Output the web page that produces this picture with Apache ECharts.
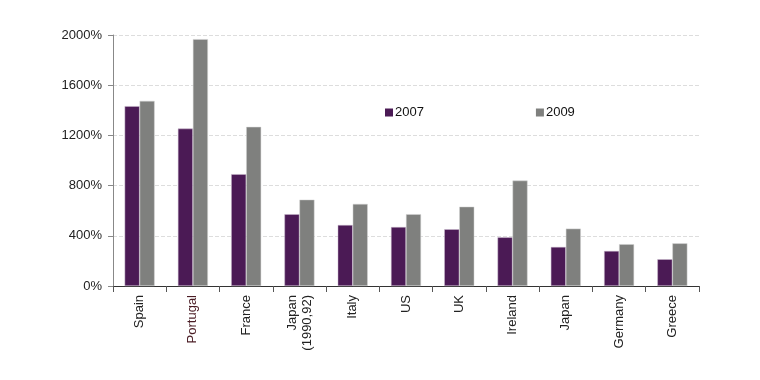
<!DOCTYPE html>
<html><head><meta charset="utf-8">
<script src="https://cdn.jsdelivr.net/npm/echarts@6/dist/echarts.min.js"></script>
<style>html,body{margin:0;padding:0;background:#fff}#c{width:760px;height:380px}</style>
</head><body><div id="c"></div>
<script>
const categories = ['Spain','Portugal','France','Japan\n(1990,92)','Italy','US','UK','Ireland','Japan','Germany','Greece'];
const values2007 = [1433,1254,891,572,486,470,452,388,311,279,213];
const values2009 = [1475,1967,1268,688,654,572,632,840,457,333,340];
const yTicks = [0,400,800,1200,1600,2000];

const chart = echarts.init(document.getElementById('c'), null, {renderer:'canvas'});
chart.setOption({
  animation:false,
  backgroundColor:'#fff',
  textStyle:{fontFamily:'Liberation Sans, Arial, sans-serif'},
  grid:{left:113,right:61,top:35,bottom:94},
  legend:{
    left:380, top:101, itemWidth:8, itemHeight:8, itemGap:112,
    icon:'rect',
    itemStyle:{borderWidth:0},
    textStyle:{fontSize:13,color:'#111',padding:[0,0,0,-3]},
    data:['2007','2009']
  },
  xAxis:{
    type:'category', data:categories,
    axisLine:{lineStyle:{color:'#333',width:1}},
    axisTick:{show:true,alignWithLabel:false,length:6,lineStyle:{color:'#555'}},
    axisLabel:{rotate:90,fontSize:13,margin:9,lineHeight:15,interval:0,
      color:(v)=> v==='Portugal' ? '#4a1c24' : '#222'},
    splitLine:{show:false}
  },
  yAxis:{
    type:'value', min:yTicks[0], max:yTicks[yTicks.length-1], interval:400,
    axisLine:{show:true,lineStyle:{color:'#888'}},
    axisTick:{show:true,length:5,lineStyle:{color:'#888'}},
    axisLabel:{formatter:v=>v+'%',fontSize:13,color:'#222',margin:11},
    splitLine:{show:true,lineStyle:{color:'#ddd',type:[4,2]}}
  },
  series:[
    {name:'2007',type:'bar',data:values2007,barWidth:15,barGap:'0%',
      itemStyle:{color:'#4B1A55',borderColor:'#c9b9cc',borderWidth:0.5}},
    {name:'2009',type:'bar',data:values2009,barWidth:15,
      itemStyle:{color:'#7F807E',borderColor:'#d4d4d4',borderWidth:0.5}}
  ]
});
</script></body></html>
